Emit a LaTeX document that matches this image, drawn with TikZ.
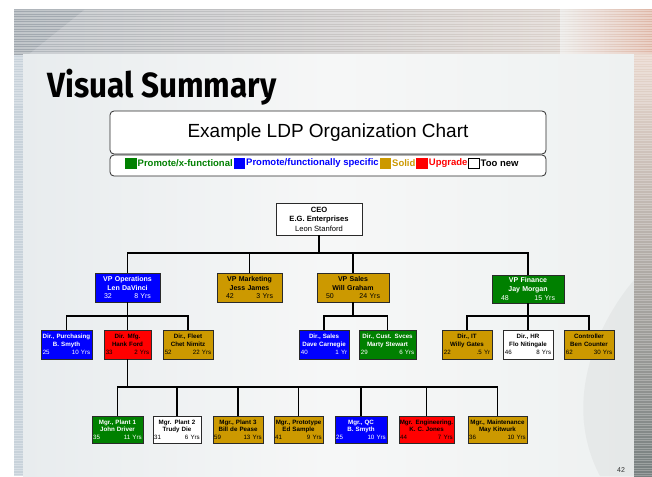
\documentclass[tikz,border=0pt]{standalone}
\usepackage{fontspec}
\setmainfont{Liberation Sans}
\setsansfont{Liberation Sans}
\newfontfamily\headfont{Fira Sans}
\usetikzlibrary{calc}

\definecolor{cgreen}{HTML}{008000}
\definecolor{cblue}{HTML}{0000FF}
\definecolor{cgold}{HTML}{CC9900}
\definecolor{cred}{HTML}{FF0000}
\definecolor{edge}{HTML}{2A2A2A}
\definecolor{slidebg}{HTML}{E9EDEF}
\definecolor{bandL}{RGB}{176,182,188}
\definecolor{bandM}{RGB}{240,241,240}
\definecolor{bandR}{RGB}{226,214,206}
\definecolor{bandWarm}{RGB}{222,170,150}
\definecolor{bandDark}{RGB}{150,158,166}
\definecolor{leftEdge}{RGB}{200,210,218}
\definecolor{panelL}{RGB}{232,236,238}
\definecolor{panelM}{RGB}{246,247,247}
\definecolor{panelR}{RGB}{238,241,241}
\definecolor{rightTop}{RGB}{232,214,204}
\definecolor{rightBot}{RGB}{120,128,128}

% three-line card text: bold title, bold name, age left / years right
\newcommand\cardtxt[4]{\makebox[\linewidth]{\textbf{#1}}\\\makebox[\linewidth]{\textbf{#2}}\\\makebox[\linewidth]{#3\hfill#4}}

\tikzset{
  card/.style={draw=edge, line width=0.7pt, inner ysep=0pt, align=center,
    font=\sffamily\fontsize{6.2}{7.9}\selectfont, text=black},
  vpcard/.style={card, inner xsep=9pt, minimum height=29pt,
    font=\sffamily\fontsize{7}{8.6}\selectfont},
  dircard/.style={card, inner xsep=1.8pt, minimum height=29pt},
  mgrcard/.style={card, inner xsep=1.2pt, minimum height=27pt,
    font=\sffamily\fontsize{6.2}{7.5}\selectfont},
  conn/.style={draw=black, line width=1.3pt},
  legsq/.style={minimum width=11.5pt, minimum height=11pt, inner sep=0pt, anchor=west},
  legtxt/.style={inner xsep=0.6pt, inner ysep=0pt, anchor=west,
    font=\sffamily\bfseries\fontsize{9.5}{10}\selectfont},
  hdrbox/.style={draw=edge, line width=0.8pt, rounded corners=4pt, fill=white}
}

\begin{document}
\begin{tikzpicture}[x=1pt,y=-1pt]
\useasboundingbox (0,0) rectangle (652,476);

% ---- slide background ----
\fill[white] (0,0) rectangle (652,476);
\fill[slidebg] (14,10) rectangle (652,476);
% striped header band
\shade[left color=bandL, middle color=bandM, right color=bandR] (14,10) rectangle (652,55);
\shade[left color=bandM, right color=bandWarm, opacity=0.7] (560,10) rectangle (652,55);
\fill[bandDark, opacity=0.55] (14,10) -- (84,10) -- (14,66) -- cycle;
\foreach \s in {10,12.5,...,54} \fill[white, opacity=0.35] (14,\s) rectangle (652,\s+1.2);
% left striped edge
\fill[leftEdge] (14,55) rectangle (23,476);
\foreach \s in {55,57.5,...,475} \fill[white, opacity=0.3] (14,\s) rectangle (23,\s+1.2);
% main panel
\shade[left color=panelL, right color=panelM] (23,55) rectangle (330,476);
\shade[left color=panelM, right color=panelR] (330,55) rectangle (634,476);
\fill[gray, opacity=0.08] (600,476) .. controls (560,400) and (600,320) .. (634,280) -- (634,476) -- cycle;
% right striped edge
\shade[top color=rightTop, bottom color=rightBot] (634,55) rectangle (652,476);
\foreach \s in {55,57.5,...,475} \fill[white, opacity=0.25] (634,\s) rectangle (652,\s+1.2);

% ---- heading ----
\node[anchor=base west, inner sep=0pt, font=\headfont\bfseries\fontsize{35}{35}\selectfont] (heading)
  at (47,97) {\scalebox{0.9}[1]{Visual Summary}};

% ---- chart caption and legend ----
\node[hdrbox, minimum width=436pt, minimum height=43pt, font=\sffamily\fontsize{19}{22}\selectfont]
  (caption) at (328,132.5) {Example LDP Organization Chart};
\node[hdrbox, minimum width=436pt, minimum height=21pt] (legend) at (328,165.5) {};

\node[legsq, fill=cgreen] (sq1) at (125,163.5) {};
\node[legtxt, text=cgreen] (lt1) at (sq1.east) {Promote/x-functional};
\node[legsq, fill=cblue] (sq2) at (lt1.east) {};
\node[legtxt, text=cblue] (lt2) at (sq2.east) {Promote/functionally specific};
\node[legsq, fill=cgold] (sq3) at (lt2.east) {};
\node[legtxt, text=cgold] (lt3) at (sq3.east) {Solid};
\node[legsq, fill=cred] (sq4) at (lt3.east) {};
\node[legtxt, text=cred] (lt4) at (sq4.east) {Upgrade};
\node[legsq, fill=white, draw=black, line width=0.6pt, minimum width=11pt, minimum height=10.5pt] (sq5) at (lt4.east) {};
\node[legtxt, text=black] (lt5) at (sq5.east) {Too new};

% ---- CEO ----
\node[card, fill=white, minimum width=86pt, minimum height=32pt, inner xsep=2pt,
  font=\sffamily\fontsize{7.6}{9.5}\selectfont] (ceo) at (319,219)
  {\textbf{CEO}\\\textbf{E.G. Enterprises}\\Leon Stanford};

% ---- vice presidents ----
\node[vpcard, fill=cblue, text=white, text width=47pt] (vpops) at (127.5,287.5)
  {\cardtxt{VP Operations}{Len DaVinci}{32}{8 Yrs}};
\node[vpcard, fill=cgold, text width=47pt] (vpmkt) at (249.5,287.5)
  {\cardtxt{VP Marketing}{Jess James}{42}{3 Yrs}};
\node[vpcard, fill=cgold, text width=54pt] (vpsales) at (353,287.5)
  {\cardtxt{VP Sales}{Will Graham}{50}{24 Yrs}};
\node[vpcard, fill=cgreen, text=white, text width=54pt, minimum height=28pt] (vpfin) at (528,289)
  {\cardtxt{VP Finance}{Jay Morgan}{48}{15 Yrs}};

% ---- directors ----
\node[dircard, fill=cblue, text=white, text width=47.4pt] (dpur) at (66.5,344.5)
  {\cardtxt{Dir., Purchasing}{B. Smyth}{25}{10 Yrs}};
\node[dircard, fill=cred, text width=43.4pt] (dmfg) at (127.5,344.5)
  {\cardtxt{Dir. Mfg.}{Hank Ford}{33}{2 Yrs}};
\node[dircard, fill=cgold, text width=46.4pt] (dflt) at (188,344.5)
  {\cardtxt{Dir., Fleet}{Chet Nimitz}{52}{22 Yrs}};
\node[dircard, fill=cblue, text=white, text width=46.4pt] (dsal) at (324,344.5)
  {\cardtxt{Dir., Sales}{Dave Carnegie}{40}{1 Yr}};
\node[dircard, fill=cgreen, text=white, text width=53.4pt] (dcus) at (387.5,344.5)
  {\cardtxt{Dir., Cust. Svces}{Marty Stewart}{29}{6 Yrs}};
\node[dircard, fill=cgold, text width=46.4pt] (dit) at (467,344.5)
  {\cardtxt{Dir., IT}{Willy Gates}{22}{.5 Yr}};
\node[dircard, fill=white, text width=46.4pt] (dhr) at (528,344.5)
  {\cardtxt{Dir., HR}{Flo Nitingale}{46}{8 Yrs}};
\node[dircard, fill=cgold, text width=46.4pt] (dctl) at (589,344.5)
  {\cardtxt{Controller}{Ben Counter}{62}{30 Yrs}};

% ---- managers ----
\node[mgrcard, fill=cgreen, text=white, text width=48.6pt] (m1) at (117.5,429.5)
  {\cardtxt{Mgr., Plant 1}{John Driver}{35}{11 Yrs}};
\node[mgrcard, fill=white, text width=45.6pt] (m2) at (177,429.5)
  {\cardtxt{Mgr. Plant 2}{Trudy Die}{31}{6 Yrs}};
\node[mgrcard, fill=cgold, text width=47.6pt] (m3) at (238,429.5)
  {\cardtxt{Mgr., Plant 3}{Bill de Pease}{59}{13 Yrs}};
\node[mgrcard, fill=cgold, text width=46.6pt] (m4) at (298.5,429.5)
  {\cardtxt{Mgr., Prototype}{Ed Sample}{41}{9 Yrs}};
\node[mgrcard, fill=cblue, text=white, text width=49.6pt] (m5) at (361,429.5)
  {\cardtxt{Mgr., QC}{B. Smyth}{25}{10 Yrs}};
\node[mgrcard, fill=cred, text width=52.6pt] (m6) at (426.5,429.5)
  {\cardtxt{Mgr. Engineering.}{K. C. Jones}{44}{7 Yrs}};
\node[mgrcard, fill=cgold, text width=56.6pt] (m7) at (497.5,429.5)
  {\cardtxt{Mgr., Maintenance}{May Kitwurk}{36}{10 Yrs}};

% ---- bus levels ----
\coordinate (vbus) at (0,253);
\coordinate (dbus) at (0,316);
\coordinate (mbus) at (0,387);

% ---- connectors ----
\foreach \c in {vpops,vpmkt,vpsales,vpfin}
  \draw[conn] (ceo.south) -- (ceo.south |- vbus) -| (\c.north);
\foreach \c in {dpur,dmfg,dflt}
  \draw[conn] (vpops.south) -- (vpops.south |- dbus) -| (\c.north);
\foreach \c in {dsal,dcus}
  \draw[conn] (vpsales.south) -- (vpsales.south |- dbus) -| (\c.north);
\foreach \c in {dit,dhr,dctl}
  \draw[conn] (vpfin.south) -- (vpfin.south |- dbus) -| (\c.north);
\foreach \c in {m1,m2,m3,m4,m5,m6,m7}
  \draw[conn] (dmfg.south) -- (dmfg.south |- mbus) -| (\c.north);

% ---- page number ----
\node[font=\sffamily\fontsize{7}{8}\selectfont, text=black!80, inner sep=0pt] (pagenum) at (621,470) {42};
\end{tikzpicture}
\end{document}
